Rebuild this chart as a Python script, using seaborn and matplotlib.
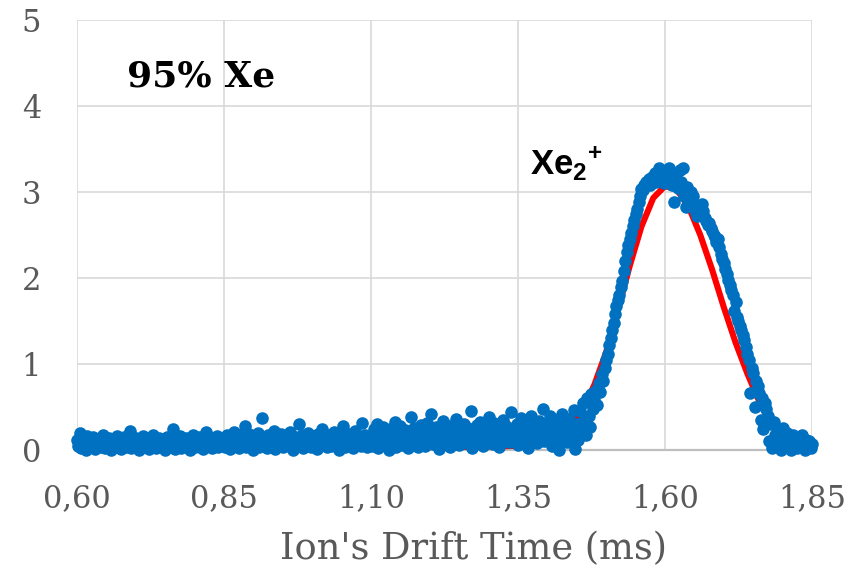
import numpy as np
import pandas as pd
import matplotlib
matplotlib.use("Agg")
import matplotlib.pyplot as plt
import seaborn as sns

# ---------------- data ----------------
# drift-time sampling of the measured signal
t_start = 0.600
t_step = 0.0025

sig_base_a = [
    0.12,0.05,0.20,0.02,0.14,0.08,0.00,0.16,0.10,0.03,
    0.07,0.15,0.01,0.11,0.06,0.13,0.04,0.09,0.17,0.02,
    0.10,0.05,0.14,0.00,0.08,0.12,0.03,0.16,0.06,0.11,
    0.01,0.09,0.15,0.04,0.13,0.07,0.22,0.02,0.10,0.05,
    0.14,0.08,0.00,0.12,0.06,0.16,0.03,0.11,0.09,0.01,
    0.13,0.05,0.17,0.07,0.02,0.10,0.14,0.04,0.12,0.08,
    0.00,0.15,0.06,0.11,0.03,0.24,0.09,0.01,0.13,0.07,
    0.16,0.02,0.10,0.05,0.14,0.08,0.12,0.00,0.06,0.17,
    0.03,0.11,0.09,0.15,0.04,0.13,0.01,0.07,0.21,0.10,
    0.05,0.14,0.02,0.12,0.08,0.16,0.03,0.11,0.06,0.09,
]
sig_base_b = [
    0.13,0.04,0.18,0.08,0.01,0.15,0.10,0.21,0.05,0.12,
    0.02,0.17,0.07,0.14,0.28,0.03,0.11,0.19,0.06,0.16,
    0.00,0.13,0.09,0.20,0.04,0.15,0.37,0.08,0.12,0.02,
    0.18,0.06,0.14,0.10,0.22,0.01,0.16,0.07,0.11,0.19,
    0.03,0.13,0.08,0.17,0.05,0.21,0.10,0.00,0.15,0.12,
    0.06,0.30,0.09,0.18,0.02,0.14,0.07,0.20,0.11,0.04,
    0.16,0.09,0.13,0.01,0.19,0.06,0.12,0.24,0.08,0.15,
    0.03,0.18,0.10,0.05,0.14,0.21,0.07,0.12,0.00,0.17,
    0.09,0.28,0.04,0.15,0.11,0.19,0.06,0.13,0.02,0.22,
    0.08,0.16,0.12,0.05,0.31,0.10,0.18,0.03,0.14,0.09,
]
sig_base_c = [
    0.15,0.05,0.24,0.10,0.30,0.02,0.18,0.12,0.27,0.07,
    0.21,0.14,0.00,0.25,0.09,0.17,0.33,0.04,0.20,0.11,
    0.28,0.06,0.16,0.23,0.13,0.02,0.19,0.38,0.08,0.26,
    0.14,0.22,0.03,0.17,0.29,0.10,0.24,0.05,0.31,0.15,
    0.20,0.42,0.07,0.18,0.27,0.12,0.01,0.23,0.16,0.34,
    0.09,0.21,0.14,0.28,0.04,0.19,0.25,0.11,0.36,0.17,
    0.06,0.24,0.13,0.30,0.20,0.08,0.26,0.15,0.45,0.02,
    0.22,0.17,0.29,0.10,0.33,0.19,0.05,0.27,0.14,0.24,
    0.38,0.12,0.21,0.07,0.31,0.18,0.26,0.03,0.23,0.16,
    0.35,0.11,0.28,0.20,0.09,0.44,0.15,0.25,0.19,0.30,
    0.06,0.22,0.37,0.13,0.27,0.17,0.32,0.02,0.24,0.40,
    0.14,0.29,0.21,0.08,0.34,0.18,0.26,0.48,0.11,0.23,
    0.31,0.16,0.39,0.05,0.28,0.20,0.35,0.12,0.00,0.25,
    0.42,0.18,0.30,0.09,0.27,0.36,0.14,0.22,0.47,0.01,
]
sig_peak = [
    0.30,0.12,0.45,0.22,0.55,0.35,0.18,0.60,0.40,0.27,
    0.65,0.48,0.58,0.70,0.52,0.78,0.68,0.88,0.80,0.95,
    1.05,1.12,1.22,1.30,1.40,1.48,1.58,1.68,1.75,1.80,
    1.90,1.97,2.08,2.20,2.30,2.38,2.45,2.52,2.60,2.68,
    2.74,2.80,2.88,2.95,3.04,3.02,3.08,3.12,3.10,3.15,
    3.08,3.18,3.14,3.22,3.12,3.20,3.28,3.15,3.22,3.10,
    3.18,3.25,3.12,3.28,3.16,3.08,2.88,3.20,3.14,3.05,
    3.26,3.12,3.28,2.95,2.82,3.06,2.98,2.90,3.00,2.95,
    2.85,2.76,2.72,2.80,2.84,2.86,2.78,2.70,2.66,2.62,
    2.64,2.58,2.55,2.50,2.48,2.42,2.45,2.36,2.28,2.22,
    2.18,2.10,2.05,1.98,1.92,1.86,1.80,1.62,1.72,1.55,
    1.50,1.44,1.40,1.34,1.28,1.20,1.12,1.05,0.66,0.95,
    0.90,0.50,0.80,0.74,0.66,0.35,0.60,0.25,0.55,0.48,
    0.40,0.10,0.30,0.02,0.32,0.18,0.05,0.22,0.10,0.00,
    0.26,0.15,0.04,0.20,0.08,0.12,0.00,0.18,0.06,0.10,
    0.02,0.14,0.05,0.18,0.08,0.00,0.12,0.04,0.10,0.02,
    0.07,
]

# fitted curve (red)
fit_time = [0.60, 0.80, 1.00, 1.20, 1.30, 1.36, 1.40, 1.42, 1.44, 1.46,
            1.48, 1.50, 1.52, 1.54, 1.56, 1.58, 1.60, 1.62, 1.64, 1.66,
            1.68, 1.70, 1.72, 1.74, 1.76, 1.78, 1.80, 1.82, 1.85]
fit_signal = [0.03, 0.03, 0.03, 0.03, 0.04, 0.05, 0.10, 0.17, 0.28, 0.47,
              0.76, 1.14, 1.63, 2.14, 2.60, 2.93, 3.07, 3.03, 2.83, 2.50,
              2.10, 1.66, 1.25, 0.89, 0.57, 0.32, 0.15, 0.07, 0.04]

x_ticks = [0.60, 0.85, 1.10, 1.35, 1.60, 1.85]
x_tick_labels = ["0,60", "0,85", "1,10", "1,35", "1,60", "1,85"]
y_ticks = [0, 1, 2, 3, 4, 5]
y_tick_labels = ["0", "1", "2", "3", "4", "5"]
x_label = "Ion's Drift Time (ms)"
title_text = "95% Xe"
peak_label = r"$\mathbf{Xe}_{\mathbf{2}}{}^{\mathbf{+}}$"

# ---------------- build frames ----------------
signal = sig_base_a + sig_base_b + sig_base_c + sig_peak
time = np.round(t_start + t_step * np.arange(len(signal)), 4)
meas = pd.DataFrame({"time": time, "signal": signal})
fit = pd.DataFrame({"time": fit_time, "signal": fit_signal})

# ---------------- style ----------------
sns.set_theme(style="white")
plt.rcParams["font.family"] = ["DejaVu Serif", "DejaVu Sans"]
plt.rcParams["mathtext.fontset"] = "custom"
plt.rcParams["mathtext.bf"] = "Liberation Sans:bold"
plt.rcParams["mathtext.rm"] = "Liberation Sans:bold"

fig = plt.figure(figsize=(8.54, 5.77), dpi=100)
ax = fig.add_axes([77 / 854, 1 - 450 / 577, (812 - 77) / 854, (450 - 20) / 577])

grid_c = "#D9D9D9"
ax.set_axisbelow(True)

sns.lineplot(data=fit, x="time", y="signal", ax=ax, color="#FF0000",
             linewidth=4.4, zorder=2, sort=True)
sns.scatterplot(data=meas, x="time", y="signal", ax=ax, color="#0070C0",
                s=82, linewidth=0, zorder=3, clip_on=False)

ax.set_xlim(0.60, 1.85)
ax.set_ylim(0, 5)
ax.set_xticks(x_ticks)
ax.set_xticklabels(x_tick_labels)
ax.set_yticks(y_ticks)
ax.set_yticklabels(y_tick_labels)
ax.grid(True, color=grid_c, linewidth=1.2)
ax.tick_params(axis="both", length=0, labelsize=22, colors="#595959")
ax.tick_params(axis="x", pad=24)
ax.tick_params(axis="y", pad=26)
for lbl in ax.get_xticklabels() + ax.get_yticklabels():
    lbl.set_color("#595959")

for side in ["top", "right", "left"]:
    ax.spines[side].set_visible(False)
ax.spines["bottom"].set_color("#BFBFBF")
ax.spines["bottom"].set_linewidth(1.6)
ax.spines["bottom"].set_zorder(1)

ax.set_xlabel(x_label, fontsize=26.5, color="#595959", labelpad=12)
ax.xaxis.label.set_x(0.539)
ax.set_ylabel("")

ax.text(0.685, 4.34, title_text, fontsize=26, fontweight="bold",
        color="black", ha="left", va="center", family="DejaVu Serif")
ax.text(1.37, 3.2, peak_label, fontsize=25, color="black",
        ha="left", va="baseline")

fig.savefig("out.png", dpi=100)
